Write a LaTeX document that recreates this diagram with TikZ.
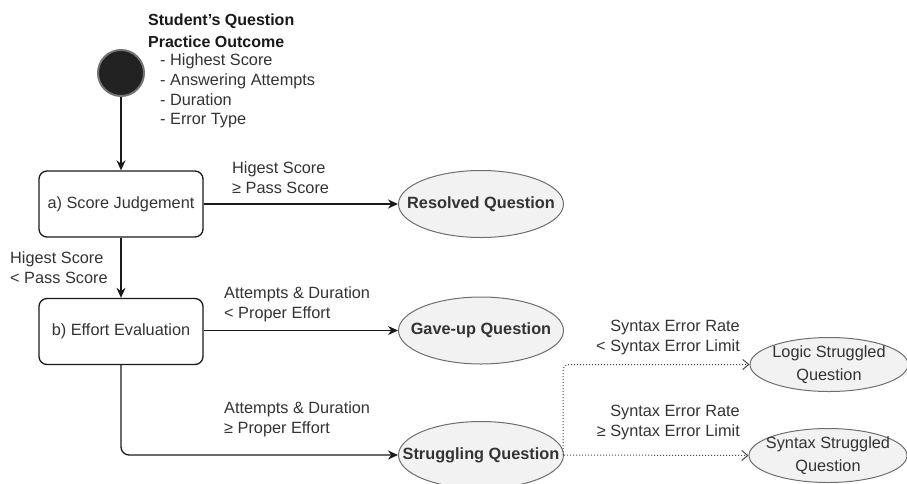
\documentclass[tikz,border=0pt]{standalone}
\usepackage{fontspec}
\setmainfont{Liberation Sans}
\usetikzlibrary{arrows.meta,shapes.geometric}
\definecolor{ink}{HTML}{333333}
\definecolor{edge}{HTML}{1A1A1A}
\definecolor{ovalfill}{HTML}{F2F2F2}
\definecolor{ovalline}{HTML}{6E6E6E}
\begin{document}
\begin{tikzpicture}[x=1pt,y=-1pt,
  txt/.style={font=\fontsize{16.3}{19.5}\selectfont, text=ink, inner sep=0pt},
  statebox/.style={draw=edge, line width=1.3pt, rounded corners=8pt,
    minimum width=164pt, minimum height=66pt, inner sep=0pt,
    font=\fontsize{16.3}{19.5}\selectfont, text=ink},
  outcome/.style={ellipse, draw=ovalline, fill=ovalfill, line width=1pt,
    minimum width=165pt, minimum height=67pt, inner sep=0pt},
  outcometext/.style={font=\bfseries\fontsize{16.3}{19.5}\selectfont, text=ink, inner sep=0pt},
  suboutcome/.style={ellipse, draw=ovalline, fill=ovalfill, line width=1pt,
    minimum width=158pt, minimum height=54pt, inner sep=0pt},
  suboutcometext/.style={font=\fontsize{16.3}{23}\selectfont, text=ink, inner sep=0pt, align=center},
  flow/.style={draw=edge, line width=1.3pt, -{Stealth[length=10pt,width=9pt]}},
  subflow/.style={draw=edge!80, line width=1pt, dotted,
    -{Straight Barb[length=6pt,width=10pt,line width=1pt,sep=0pt]}}
]
\useasboundingbox (0,0) rectangle (907,483);

% initial state and its description
\node[circle, fill=black!87, draw=black!55, line width=2pt, minimum size=46pt, inner sep=0pt] (start) at (121,73) {};
\node[txt, anchor=west, align=left, font=\bfseries\fontsize{16}{22}\selectfont, text=black!90] (title) at (148,31)
  {Student's Question\\Practice Outcome};
\node[txt, anchor=west, align=left, font=\fontsize{16.3}{19.6}\selectfont] (items) at (160,91)
  {- Highest Score\\- Answering Attempts\\- Duration\\- Error Type};

% decision steps
\node[statebox] (judge) at (121,204) {a) Score Judgement};
\node[statebox] (effort) at (121,331.5) {b) Effort Evaluation};

% outcomes (ellipses of fixed size, text set at their centre)
\node[outcome, label={[outcometext]center:Resolved Question}] (resolved) at (481,204) {};
\node[outcome, label={[outcometext]center:Gave-up Question}] (gaveup) at (481,330.5) {};
\node[outcome, label={[outcometext]center:Struggling Question}] (struggle) at (481,455) {};
\node[suboutcome, label={[suboutcometext]center:Logic Struggled\\Question}] (logic) at (829,364.5) {};
\node[suboutcome, label={[suboutcometext]center:Syntax Struggled\\Question}] (syntax) at (828,455.5) {};

% connectors
\draw[flow] (start) -- (judge);
\draw[flow] (judge) -- (resolved);
\draw[flow] (judge) -- (effort);
\draw[flow] (effort.east |- gaveup.west) -- (gaveup.west);
\draw[flow, rounded corners=8pt] (effort.south) |- (struggle.west);
\draw[subflow] (struggle.east) -- (syntax.west);
\draw[subflow, rounded corners=6pt] ([xshift=-1pt]struggle.east) |- (logic.west);

% connector labels
\node[txt, anchor=west, align=left] (lresolved) at (232,177.5) {Higest Score\\≥ Pass Score};
\node[txt, anchor=west, align=left] (leffort) at (10,267.5) {Higest Score\\< Pass Score};
\node[txt, anchor=west, align=left] (lgaveup) at (224,304.5) {Attempts \& Duration\\< Proper Effort};
\node[txt, anchor=west, align=left] (lstruggle) at (224,419.5) {Attempts \& Duration\\≥ Proper Effort};
\node[txt, anchor=east, align=right] (llogic) at (740,337.5) {Syntax Error Rate\\< Syntax Error Limit};
\node[txt, anchor=east, align=right] (lsyntax) at (740,422.5) {Syntax Error Rate\\≥ Syntax Error Limit};
\end{tikzpicture}
\end{document}
